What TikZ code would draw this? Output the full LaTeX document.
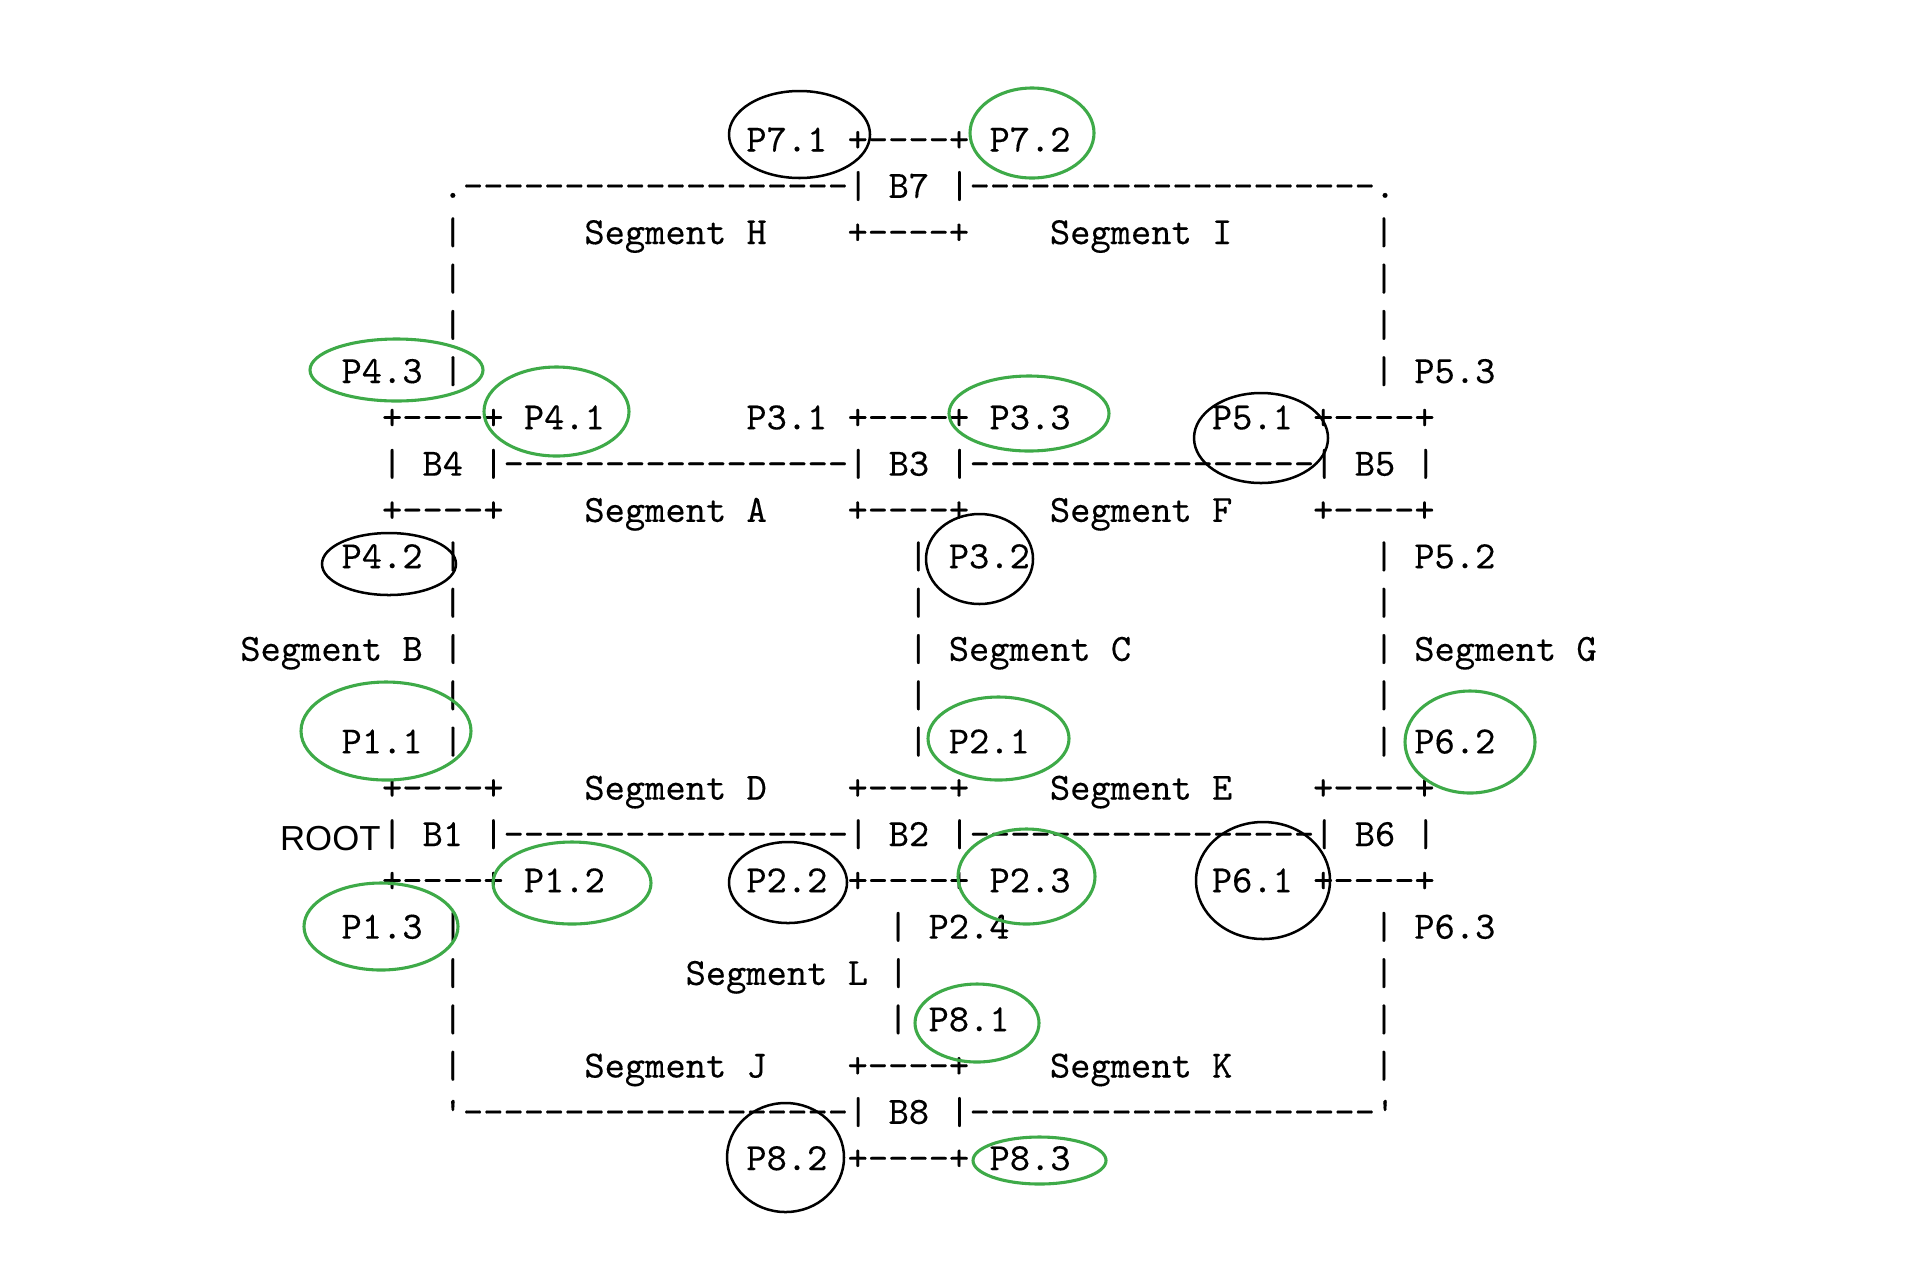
\documentclass[tikz,border=0pt]{standalone}
\usepackage{fontspec}
\newfontfamily\rootfont{Liberation Sans}
\newfontfamily\asctt{lmmono10-regular.otf}[FakeBold=0.25]
\definecolor{ringgreen}{RGB}{62,170,72}
\tikzset{
  asc/.style={anchor=base west,inner sep=0pt,outer sep=0pt,font=\asctt\fontsize{10}{12}\selectfont},
  rootlbl/.style={anchor=base east,inner sep=0pt,outer sep=0pt,font=\rootfont\fontsize{9}{11}\selectfont},
  gring/.style={draw=ringgreen,line width=0.8pt},
  kring/.style={draw=black,line width=0.65pt},
}
\newcommand\hy[1]{\foreach\hyi in {1,...,#1}{-\kern0pt}}
\newcommand\ascline[4]{\node[asc] (#1) at ({382.0+20.24*(#3)},{151.5+46.30*(#2)}) {#4};}
\begin{document}
\begin{tikzpicture}[x=0.25907pt,y=-0.25907pt]
\useasboundingbox (0,0) rectangle (1920,1282);
% row 0
\ascline{r0}{0}{18}{P7.1 +\hy{4}+ P7.2}
% row 1
\ascline{r1}{1}{3}{.\hy{19}| B7 |\hy{20}.}
% row 2
\ascline{r2a}{2}{3}{|}
\ascline{r2b}{2}{10}{Segment H}
\ascline{r2c}{2}{23}{+\hy{4}+}
\ascline{r2d}{2}{33}{Segment I}
\ascline{r2e}{2}{49}{|}
% rows 3-4
\ascline{r3a}{3}{3}{|}
\ascline{r3b}{3}{49}{|}
\ascline{r4a}{4}{3}{|}
\ascline{r4b}{4}{49}{|}
% row 5
\ascline{r5a}{5}{-2}{P4.3 |}
\ascline{r5b}{5}{49}{| P5.3}
% row 6
\ascline{r6a}{6}{0}{+\hy{4}+ P4.1}
\ascline{r6b}{6}{18}{P3.1 +\hy{4}+ P3.3}
\ascline{r6c}{6}{41}{P5.1 +\hy{4}+}
% row 7
\ascline{r7}{7}{0}{| B4 |\hy{17}| B3 |\hy{17}| B5 |}
% row 8
\ascline{r8a}{8}{0}{+\hy{4}+}
\ascline{r8b}{8}{10}{Segment A}
\ascline{r8c}{8}{23}{+\hy{4}+}
\ascline{r8d}{8}{33}{Segment F}
\ascline{r8e}{8}{46}{+\hy{4}+}
% row 9
\ascline{r9a}{9}{-2}{P4.2 |}
\ascline{r9b}{9}{26}{| P3.2}
\ascline{r9c}{9}{49}{| P5.2}
% row 10
\ascline{r10a}{10}{3}{|}
\ascline{r10b}{10}{26}{|}
\ascline{r10c}{10}{49}{|}
% row 11
\ascline{r11a}{11}{-7}{Segment B |}
\ascline{r11b}{11}{26}{| Segment C}
\ascline{r11c}{11}{49}{| Segment G}
% row 12
\ascline{r12a}{12}{3}{|}
\ascline{r12b}{12}{26}{|}
\ascline{r12c}{12}{49}{|}
% row 13
\ascline{r13a}{13}{-2}{P1.1 |}
\ascline{r13b}{13}{26}{| P2.1}
\ascline{r13c}{13}{49}{| P6.2}
% row 14
\ascline{r14a}{14}{0}{+\hy{4}+}
\ascline{r14b}{14}{10}{Segment D}
\ascline{r14c}{14}{23}{+\hy{4}+}
\ascline{r14d}{14}{33}{Segment E}
\ascline{r14e}{14}{46}{+\hy{4}+}
% row 15
\node[rootlbl] (root) at (380.5,{155.5+46.30*15}) {ROOT};
\ascline{r15}{15}{0}{| B1 |\hy{17}| B2 |\hy{17}| B6 |}
% row 16
\ascline{r16a}{16}{0}{+\hy{4}+ P1.2}
\ascline{r16b}{16}{18}{P2.2 +\hy{4}+ P2.3}
\ascline{r16c}{16}{41}{P6.1 +\hy{4}+}
% row 17
\ascline{r17a}{17}{-2}{P1.3 |}
\ascline{r17b}{17}{25}{| P2.4}
\ascline{r17c}{17}{49}{| P6.3}
% row 18
\ascline{r18a}{18}{3}{|}
\ascline{r18b}{18}{15}{Segment L |}
\ascline{r18c}{18}{49}{|}
% row 19
\ascline{r19a}{19}{3}{|}
\ascline{r19b}{19}{25}{| P8.1}
\ascline{r19c}{19}{49}{|}
% row 20
\ascline{r20a}{20}{3}{|}
\ascline{r20b}{20}{10}{Segment J}
\ascline{r20c}{20}{23}{+\hy{4}+}
\ascline{r20d}{20}{33}{Segment K}
\ascline{r20e}{20}{49}{|}
% row 21
\ascline{r21}{21}{3}{'\hy{19}| B8 |\hy{20}'}
% row 22
\ascline{r22}{22}{18}{P8.2 +\hy{4}+ P8.3}
% black rings
\draw[kring] (799.5,134.5) ellipse [x radius=70.5,y radius=43.5];
\draw[kring] (389,564) ellipse [x radius=67,y radius=31];
\draw[kring] (979.5,559) ellipse [x radius=53.5,y radius=45];
\draw[kring] (1261,438) ellipse [x radius=67,y radius=45];
\draw[kring] (788,882.5) ellipse [x radius=59,y radius=40.5];
\draw[kring] (1263,880.5) ellipse [x radius=67,y radius=58.5];
\draw[kring] (785.5,1157.5) ellipse [x radius=58.5,y radius=54.5];
% green rings
\draw[gring] (1032,133) ellipse [x radius=62,y radius=45];
\draw[gring] (396.5,370) ellipse [x radius=86.5,y radius=31];
\draw[gring] (556.5,411.5) ellipse [x radius=72.5,y radius=44.5];
\draw[gring] (1029,413.5) ellipse [x radius=80,y radius=37.5];
\draw[gring] (386,731) ellipse [x radius=85,y radius=49];
\draw[gring] (998.5,738.5) ellipse [x radius=70.5,y radius=41.5];
\draw[gring] (1470,742) ellipse [x radius=65,y radius=51];
\draw[gring] (572,883) ellipse [x radius=79,y radius=41];
\draw[gring] (381,926.5) ellipse [x radius=77,y radius=43.5];
\draw[gring] (1026.5,876.5) ellipse [x radius=68.5,y radius=47.5];
\draw[gring] (977,1023) ellipse [x radius=62,y radius=39];
\draw[gring] (1039.5,1160.5) ellipse [x radius=66.5,y radius=23.5];
\end{tikzpicture}
\end{document}
